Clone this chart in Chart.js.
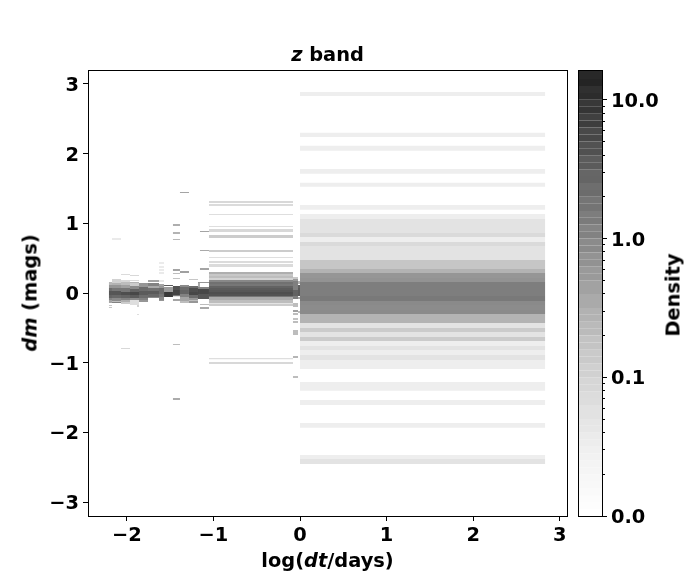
<!DOCTYPE html>
<html>
<head>
<meta charset="utf-8">
<style>
  body { margin: 0; background: #fff; width: 700px; height: 580px; position: relative; overflow: hidden; }
  canvas { position: absolute; top: 0; }
  .lbl { position: absolute; font: bold 19.4px "DejaVu Sans", sans-serif; color: #000; white-space: nowrap; }
  .rot { transform: translate(-50%, -50%) rotate(-90deg); }
  .mid { transform: translate(-50%, -50%); }
</style>
<script src="https://cdn.jsdelivr.net/npm/chart.js@4"></script>
</head>
<body>
<canvas id="main" width="700" height="580" style="left:0"></canvas>
<canvas id="cbar" width="160" height="580" style="left:540px"></canvas>
<div class="lbl mid" style="left:327.5px;top:54px"><i>z</i> band</div>
<div class="lbl mid" style="left:327.5px;top:560px">log(<i>dt</i>/days)</div>
<div class="lbl rot" style="left:30px;top:292.5px"><i>dm</i> (mags)</div>
<div class="lbl rot" style="left:673px;top:294.5px">Density</div>
<script>
// bands are [top, bottom, density]
const bandsA = [[.158,.115,.23],[.115,.072,.6],[.072,.029,2.2],[.029,-.029,3.8],[-.029,-.072,2.8],[-.072,-.100,1.1],[-.100,-.144,.39],[-.172,-.187,.15],[-.201,-.215,.15]];
const bandsB = [[.782,.768,.09],[.201,.144,.1],[.144,.115,.26],[.115,.072,.6],[.072,.029,1.55],[.029,-.029,3.8],[-.029,-.072,2.5],[-.072,-.115,.82],[-.115,-.129,.2],[-.129,-.144,1.1]];
const bandsC = [[.273,.258,.07],[.187,.158,.08],[.158,.115,.2],[.115,.072,.44],[.072,.014,1.55],[.014,-.029,4.6],[-.029,-.072,2.8],[-.072,-.100,1.1],[-.100,-.129,.3],[-.129,-.158,.125],[-.789,-.803,.08]];
const bandsD = [[.258,.244,.08],[.187,.172,.07],[.158,.144,.26],[.144,.100,.125],[.100,.057,.82],[.057,.014,2.8],[.014,-.029,5.4],[-.029,-.072,3.4],[-.072,-.100,.82],[-.100,-.172,.064]];
const bandsD2 = [[-.172,-.201,.1],[-.302,-.316,.064]];
const bandsE = [[.144,.086,.6],[.086,.029,2.2],[.029,-.029,3.4],[-.029,-.072,2.2],[-.072,-.100,1.1],[-.100,-.129,.6]];
const bandsF = [[.187,.158,.39],[.144,.100,1.1],[.100,.072,.34],[.072,.029,1.85],[.029,-.014,3.4],[-.014,-.057,2.5],[-.057,-.072,.82]];
const bandsG = [[.437,.423,.08],[.380,.366,.08],[.337,.323,.08],[.294,.280,.09],[.179,.165,.1],[.129,.100,.39],[.100,.072,.6],[.072,-.014,2.2],[-.014,-.057,1.55],[-.057,-.100,.9],[-.100,-.115,.6]];
const bandsH = [[.115,.100,3.4],[.086,.014,.5],[.014,-.057,7.5]];
const bandsI = [[.990,.962,.3],[.875,.847,.26],[.775,.761,.23],[.344,.316,.39],[.287,.273,.2],[.215,.201,.17],[.100,.043,4.2],[.043,-.029,5.8],[-.029,-.043,1.5],[-.043,-.057,.05],[-.086,-.115,.39],[-.732,-.746,.2],[-1.507,-1.535,.33]];
const bandsJ = [[1.449,1.435,.39],[.316,.287,.44],[.115,.086,.82],[.086,.043,2.2],[.043,-.014,2.8],[-.014,-.057,1.1],[-.057,-.115,.39],[-.115,-.144,.2]];
const bandsK = [[.201,.187,.15],[.100,.072,2.2],[.072,.014,4.6],[.014,-.029,5.4],[-.029,-.072,2.2],[-.072,-.100,.6],[-.100,-.115,.2],[-.115,-.144,.6]];
const bandsL = [[.158,.144,.6],[.144,.086,.34],[.086,.057,1.1],[.057,-.014,5.4],[-.014,-.086,3.8]];
const bandsM = [[.890,.875,.39],[.617,.603,.34],[.359,.330,.39],[.158,.144,.6],[.086,.057,1.1],[.057,-.014,5.4],[-.014,-.086,3.8],[-.158,-.172,.2],[-.201,-.230,.34]];
const bandsMid = [[1.320,1.292,.08],[1.277,1.248,.07],[1.134,1.119,.064],[.961,.947,.064],[.918,.875,.08],[.832,.789,.125],[.617,.588,.125],[.517,.502,.06],[.459,.430,.07],[.416,.373,.07],[.301,.273,.3],[.273,.244,.15],[.244,.215,.2],[.215,.187,.1],[.187,.158,.9],[.158,.129,1.85],[.129,.100,1.55],[.100,.072,2.8],[.072,.043,3.4],[.043,.014,3.8],[.014,-.014,4.6],[-.014,-.043,4.2],[-.043,-.057,1.6],[-.057,-.100,.34],[-.100,-.144,.2],[-.144,-.158,.05],[-.158,-.187,.125],[-.933,-.951,.064],[-.990,-1.019,.08]];
const bandsN = [[.230,.201,.15],[.201,.172,.55],[.172,.043,1.2],[.043,-.043,2.8],[-.043,-.086,1.25],[-.144,-.201,.2],[-.244,-.273,.44],[-.287,-.316,.2],[-.359,-.387,.17],[-.402,-.430,.2],[-.531,-.603,.2],[-.904,-.933,.25],[-1.191,-1.220,.2]];
const bandsO = [[.172,.129,.26],[.115,.072,2.8],[.072,-.043,3.4],[-.057,-.086,.34],[-.258,-.287,.2]];
const bandsRight = [[2.884,2.826,.03],[2.30,2.238,.03],[2.114,2.042,.03],[1.779,1.712,.03],[1.583,1.525,.03],[1.263,1.195,.03],[1.134,1.062,.03],[1.062,.861,.05],[.861,.803,.075],[.803,.732,.03],[.732,.674,.075],[.674,.474,.05],[.474,.344,.155],[.344,.287,.26],[.287,.215,.6],[.215,.158,.65],[.158,-.043,1.25],[-.043,-.115,1.45],[-.115,-.172,.85],[-.172,-.244,.8],[-.244,-.301,.85],[-.301,-.43,.26],[-.43,-.502,.05],[-.502,-.56,.13],[-.56,-.631,.05],[-.631,-.689,.13],[-.689,-.76,.03],[-.76,-.818,.05],[-.818,-.89,.03],[-.89,-.961,.05],[-.961,-1.09,.03],[-1.277,-1.402,.03],[-1.535,-1.607,.03],[-1.865,-1.933,.03],[-2.325,-2.382,.03],[-2.382,-2.454,.05]];

const columnLeft = [-2.206, -2.171, -2.067, -1.963, -1.882, -1.859, -1.755, -1.628, -1.570, -1.467, -1.386, -1.282, -1.178, -1.155, -1.051, -.081, -.023, 0];
const columnRight = [-2.171, -2.067, -1.963, -1.859, -1.859, -1.755, -1.628, -1.570, -1.467, -1.386, -1.282, -1.178, -1.155, -1.051, -.081, -.023, 0, 2.83];
const columnBands = [bandsA, bandsB, bandsC, bandsD, bandsD2, bandsE, bandsF, bandsG, bandsH, bandsI, bandsJ, bandsK, bandsL, bandsM, bandsMid, bandsN, bandsO, bandsRight];

const xTicks = [-2, -1, 0, 1, 2, 3];
const yTicks = [-3, -2, -1, 0, 1, 2, 3];
const cbarTicks = [.01,.02,.03,.04,.05,.06,.07,.08,.09,.1,.2,.3,.4,.5,.6,.7,.8,.9,1,2,3,4,5,6,7,8,9,10];
const cbarMajor = [.01, .1, 1, 10];
const cbarLevels = [.01,.0112,.0126,.0141,.0158,.0178,.02,.0224,.0251,.0282,.0316,.0355,.0398,.0447,.0501,.0562,.0631,.0708,.0794,.0891,.1,.112,.126,.141,.158,.178,.2,.224,.251,.282,.316,.355,.398,.447,.501,.562,.631,.708,.794,.891,1,1.12,1.26,1.41,1.58,1.78,2,2.24,2.51,2.82,3.16,3.55,3.98,4.47,5.01,5.62,6.31,7.08,7.94,8.91,10,11.2,12.6,14.1,16.4];

// colormap: log10(density) -> grey level
const mapLog = [-2, -1.598, -1.196, -.794, -.393, .009, .411, .813, 1.215];
const mapGrey = [255, 242, 222, 197, 163, 132, 103, 63, 31];

function greyFor(d) {
    const t = Math.log10(d);
    if (t <= mapLog[0]) return mapGrey[0];
    for (let i = 1; i < mapLog.length; i++) {
        if (t <= mapLog[i]) {
            const f = (t - mapLog[i - 1]) / (mapLog[i] - mapLog[i - 1]);
            return mapGrey[i - 1] + f * (mapGrey[i] - mapGrey[i - 1]);
        }
    }
    return mapGrey[mapGrey.length - 1];
}

function cell(x0, x1, top, bottom, g) {
    const c = Math.round(g);
    const col = `rgb(${c},${c},${c})`;
    return {
        data: [{x: x0, y: top}, {x: x1, y: top}, {x: x1, y: bottom}, {x: x0, y: bottom}],
        fill: 'shape',
        backgroundColor: col,
        borderWidth: 0,
        pointRadius: 0,
        tension: 0
    };
}

const cells = [];
columnBands.forEach((bands, i) => {
    bands.forEach(b => cells.push(cell(columnLeft[i], columnRight[i], b[0], b[1], greyFor(b[2]))));
});

// the colorbar has thin darker seams that get stronger toward the top
const cbarCells = [];
for (let i = 0; i < cbarLevels.length - 1; i++) {
    const seam = (i % 2 ? 1 : -1) * 4 * i / cbarLevels.length;
    cbarCells.push(cell(0, 1, cbarLevels[i + 1], cbarLevels[i], greyFor(cbarLevels[i]) + seam));
}

const tickFont = {family: '"DejaVu Sans"', size: 19.4, weight: 'bold'};

// matplotlib sits its tick labels a bit lower than the canvas middle baseline
const framePlugin = {
    id: 'frame',
    beforeDraw(chart) {
        Object.values(chart.scales).forEach(s => {
            if (s.axis !== 'y' || !s.options.display) return;
            s.getLabelItems(chart.chartArea).forEach(item => {
                if (!item.moved) {
                    item.textOffset += 2;
                    item.moved = true;
                }
            });
        });
    },
    afterDraw(chart) {
        const a = chart.chartArea;
        const ctx = chart.ctx;
        ctx.save();
        ctx.strokeStyle = '#000';
        ctx.lineWidth = 1;
        ctx.strokeRect(a.left + .5, a.top + .5, a.right - a.left, a.bottom - a.top);
        ctx.restore();
    }
};

const minusLabel = v => String(v).replace('-', '\u2212');

new Chart(document.getElementById('main'), {
    type: 'line',
    data: {datasets: cells},
    plugins: [framePlugin],
    options: {
        responsive: false,
        animation: false,
        events: [],
        layout: {padding: {top: 70, right: 133, left: 0, bottom: 0}},
        plugins: {legend: {display: false}, tooltip: {enabled: false}},
        scales: {
            x: {
                type: 'linear',
                min: -2.448,
                max: 3.083,
                afterBuildTicks: s => { s.ticks = xTicks.map(v => ({value: v})); },
                afterFit: s => { s.height = 64; },
                grid: {drawOnChartArea: false, tickLength: 5, tickColor: '#000'},
                border: {display: false},
                ticks: {font: tickFont, color: '#000', padding: 3, maxRotation: 0, autoSkip: false, callback: minusLabel}
            },
            y: {
                type: 'linear',
                min: -3.2,
                max: 3.2,
                afterBuildTicks: s => { s.ticks = yTicks.map(v => ({value: v})); },
                afterFit: s => { s.width = 88; },
                grid: {drawOnChartArea: false, tickLength: 5, tickColor: '#000'},
                border: {display: false},
                ticks: {font: tickFont, color: '#000', padding: 4, autoSkip: false, callback: minusLabel}
            }
        }
    }
});

new Chart(document.getElementById('cbar'), {
    type: 'line',
    data: {datasets: cbarCells},
    plugins: [framePlugin],
    options: {
        responsive: false,
        animation: false,
        events: [],
        layout: {padding: {top: 70, left: 38, right: 0, bottom: 64}},
        plugins: {legend: {display: false}, tooltip: {enabled: false}},
        scales: {
            x: {type: 'linear', min: 0, max: 1, display: false},
            y: {
                type: 'logarithmic',
                position: 'right',
                min: .01,
                max: 16.4,
                afterBuildTicks: s => { s.ticks = cbarTicks.map(v => ({value: v})); },
                afterFit: s => { s.width = 98; },
                grid: {
                    drawOnChartArea: false,
                    tickLength: 5,
                    tickColor: '#000',
                    tickBorderDash: c => (cbarMajor.includes(c.tick.value) ? [] : [3, 9])
                },
                border: {display: false},
                ticks: {
                    font: tickFont,
                    color: '#000',
                    padding: 4,
                    autoSkip: false,
                    callback: v => (cbarMajor.includes(v) ? v.toFixed(1) : '')
                }
            }
        }
    }
});
</script>
</body>
</html>
